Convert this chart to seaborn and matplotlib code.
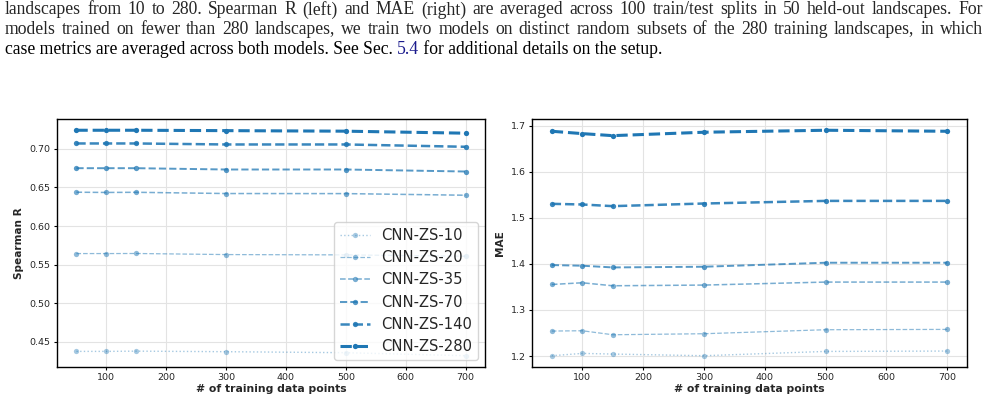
import matplotlib
matplotlib.use("Agg")
import matplotlib.pyplot as plt
import seaborn as sns
import pandas as pd

# data
train_points = [50, 100, 150, 300, 500, 700]
models = ["CNN-ZS-10", "CNN-ZS-20", "CNN-ZS-35", "CNN-ZS-70", "CNN-ZS-140", "CNN-ZS-280"]

spearman_10 = [0.4378, 0.4378, 0.4381, 0.4374, 0.4361, 0.4322]
spearman_20 = [0.5644, 0.5644, 0.5645, 0.5631, 0.5627, 0.5610]
spearman_35 = [0.6438, 0.6435, 0.6437, 0.6421, 0.6420, 0.6399]
spearman_70 = [0.6749, 0.6749, 0.6749, 0.6732, 0.6732, 0.6706]
spearman_140 = [0.7069, 0.7069, 0.7069, 0.7056, 0.7056, 0.7026]
spearman_280 = [0.7240, 0.7240, 0.7240, 0.7235, 0.7228, 0.7202]

mae_10 = [1.2007, 1.2057, 1.2043, 1.2007, 1.2100, 1.2108]
mae_20 = [1.2542, 1.2549, 1.2462, 1.2484, 1.2571, 1.2578]
mae_35 = [1.3553, 1.3590, 1.3525, 1.3540, 1.3605, 1.3605]
mae_70 = [1.3974, 1.3960, 1.3923, 1.3938, 1.4025, 1.4025]
mae_140 = [1.5303, 1.5289, 1.5253, 1.5310, 1.5367, 1.5367]
mae_280 = [1.6878, 1.6827, 1.6783, 1.6857, 1.6900, 1.6878]

spearman = [spearman_10, spearman_20, spearman_35, spearman_70, spearman_140, spearman_280]
mae = [mae_10, mae_20, mae_35, mae_70, mae_140, mae_280]

caption_justified = [
    "landscapes from 10 to 280. Spearman R (left) and MAE (right) are averaged across 100 train/test splits in 50 held-out landscapes. For",
    "models trained on fewer than 280 landscapes, we train two models on distinct random subsets of the 280 training landscapes, in which",
]
caption_last = ["case metrics are averaged across both models. See Sec. ", "5.4",
                " for additional details on the setup."]

# styling per model: lighter / thinner for fewer landscapes
alphas = [0.4, 0.5, 0.6, 0.75, 0.88, 1.0]
widths = [1.0, 0.9, 1.1, 1.4, 1.8, 2.2]
styles = [":", "--", "--", "--", "--", "--"]

sns.set_style("whitegrid", {"axes.edgecolor": "black", "grid.color": "#e3e3e3",
                            "xtick.bottom": True, "ytick.left": True})

fig = plt.figure(figsize=(9.86, 4.15), dpi=100)
ax1 = fig.add_axes([0.0578, 0.1157, 0.4341, 0.5976])
ax2 = fig.add_axes([0.5396, 0.1157, 0.4411, 0.5976])

for ax, metric in [(ax1, spearman), (ax2, mae)]:
    for i, name in enumerate(models):
        df = pd.DataFrame({"x": train_points, "y": metric[i]})
        sns.lineplot(data=df, x="x", y="y", ax=ax, color="#1f77b4", alpha=alphas[i],
                     linewidth=widths[i], linestyle=styles[i], marker="o", markersize=3.8,
                     markeredgewidth=0, label=name, legend=False)
    ax.set_xlabel("# of training data points", fontsize=7.8, fontweight="bold", labelpad=1)
    ax.tick_params(labelsize=6.8, length=2.5, pad=2, color="black")
    for s in ax.spines.values():
        s.set_linewidth(1.0)

ax1.set_ylabel("Spearman R", fontsize=7.6, fontweight="bold")
ax2.set_ylabel("MAE", fontsize=7.6, fontweight="bold")
ax1.set_yticks([0.45, 0.50, 0.55, 0.60, 0.65, 0.70])
ax2.set_yticks([1.2, 1.3, 1.4, 1.5, 1.6, 1.7])
ax1.legend(loc="lower right", fontsize=10.6, borderaxespad=0.45, labelspacing=0.5,
           handlelength=2.0, frameon=True)

# caption text from the page around the figure
cap_kw = dict(family="Liberation Serif", fontsize=12.7, va="center", ha="left")
W = fig.bbox.width
x_left, x_right = 5, 983
fig.canvas.draw()
renderer = fig.canvas.get_renderer()
for j, line in enumerate(caption_justified):
    y = 1 - (10 + 19.5 * j) / 415
    words = line.split(" ")
    texts = [fig.text(0, y, w, **cap_kw) for w in words]
    widths_px = [t.get_window_extent(renderer).width for t in texts]
    gap = (x_right - x_left - sum(widths_px)) / (len(words) - 1)
    x = x_left
    for t, w in zip(texts, widths_px):
        t.set_x(x / W)
        x += w + gap

y3 = 1 - (10 + 19.5 * 2) / 415
x = x_left
for k, part in enumerate(caption_last):
    t = fig.text(x / W, y3, part, color="#1a1a8c" if k == 1 else "black", **cap_kw)
    x = t.get_window_extent(renderer).x1

fig.savefig("out.png", dpi=100)
